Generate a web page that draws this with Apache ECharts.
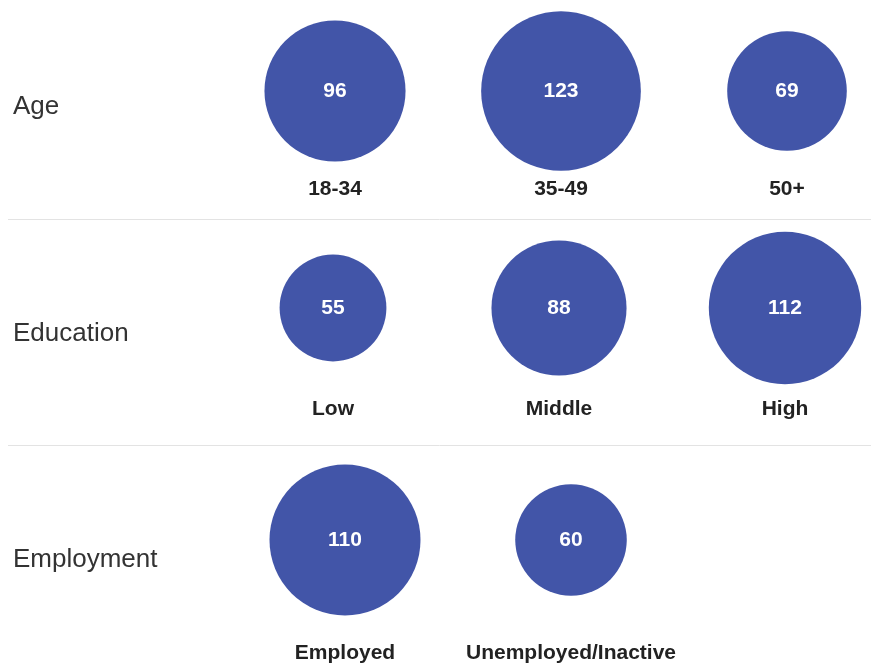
<!DOCTYPE html>
<html>
<head>
<meta charset="utf-8">
<script src="https://cdn.jsdelivr.net/npm/echarts@6/dist/echarts.min.js"></script>
<style>
  html, body { margin: 0; padding: 0; background: #ffffff; }
  #chart { width: 871px; height: 670px; }
</style>
</head>
<body>
<div id="chart"></div>
<script>
// Group names and the bubble values of each group
const rowNames = ['Age', 'Education', 'Employment'];
const ageCategories = ['18-34', '35-49', '50+'];
const ageValues = [96, 123, 69];
const educationCategories = ['Low', 'Middle', 'High'];
const educationValues = [55, 88, 112];
const employmentCategories = ['Employed', 'Unemployed/Inactive'];
const employmentValues = [110, 60];

const groups = [
  { categories: ageCategories, values: ageValues },
  { categories: educationCategories, values: educationValues },
  { categories: employmentCategories, values: employmentValues }
];

// Row layout (pixels): first column centre, plot area per row, row label position
const rowLayout = [
  { firstX: 335, top: 11, height: 160, labelY: 108 },
  { firstX: 333, top: 225, height: 166, labelY: 335 },
  { firstX: 345, top: 445, height: 190, labelY: 561 }
];
const columnPitch = 226;
const dividerYs = [219.5, 445.5];

const bubbleColor = '#4255a8';
const fontFamily = 'Liberation Sans, Arial, sans-serif';
// Bubble area proportional to value
const sizeOf = v => 14.4 * Math.sqrt(v);

const grid = [], xAxis = [], yAxis = [], series = [], graphic = [];

groups.forEach((g, i) => {
  const L = rowLayout[i];
  // Categories sit on the grid edges (boundaryGap false), so the grid spans centre to centre
  grid.push({
    left: L.firstX,
    top: L.top,
    width: columnPitch * (g.categories.length - 1),
    height: L.height
  });
  xAxis.push({
    type: 'category',
    gridIndex: i,
    data: g.categories,
    boundaryGap: false,
    axisLine: { show: false },
    axisTick: { show: false },
    splitLine: { show: false },
    axisLabel: {
      interval: 0,
      margin: 8,
      fontSize: 21,
      fontWeight: 'bold',
      color: '#222222',
      fontFamily
    }
  });
  yAxis.push({ type: 'value', gridIndex: i, min: -1, max: 1, show: false });
  series.push({
    type: 'scatter',
    xAxisIndex: i,
    yAxisIndex: i,
    data: g.values.map((v, k) => [k, 0, v]),
    symbol: 'circle',
    symbolSize: val => sizeOf(val[2]),
    itemStyle: { color: bubbleColor, opacity: 1 },
    label: {
      show: true,
      position: 'inside',
      formatter: p => p.value[2],
      color: '#ffffff',
      fontSize: 21,
      fontWeight: 'bold',
      fontFamily
    },
    emphasis: { disabled: true },
    silent: true
  });
  graphic.push({
    type: 'text',
    left: 13,
    top: L.labelY - 14,
    style: {
      text: rowNames[i],
      fill: '#333333',
      fontSize: 26,
      fontFamily
    }
  });
});

dividerYs.forEach(y => {
  graphic.push({
    type: 'line',
    shape: { x1: 8, y1: y, x2: 871, y2: y },
    style: { stroke: '#e3e3e3', lineWidth: 1 }
  });
});

const chart = echarts.init(document.getElementById('chart'), null, { renderer: 'canvas' });
chart.setOption({
  animation: false,
  backgroundColor: '#ffffff',
  grid, xAxis, yAxis, series, graphic
});
</script>
</body>
</html>
